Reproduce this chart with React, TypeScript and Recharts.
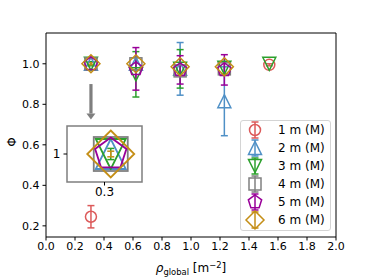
import React from "react";
import { ComposedChart, Scatter, XAxis, YAxis, ErrorBar, ReferenceArea, ReferenceLine } from "recharts";

const FONT = "DejaVu Sans, Verdana, sans-serif";

const SERIES_NAMES = ["1 m (M)", "2 m (M)", "3 m (M)", "4 m (M)", "5 m (M)", "6 m (M)"];
const SERIES_COLORS = ["#dc5a5a", "#4f90c6", "#2ca02c", "#808080", "#990099", "#c48e16"];
const SERIES_MARKERS = ["circle", "triangleUp", "triangleDown", "square", "pentagon", "diamond"];

// rho_global per series, Phi, and symmetric error
const RHO_1M = [0.31, 1.54];
const PHI_1M = [0.245, 0.995];
const ERR_1M = [0.055, 0.005];

const RHO_2M = [0.31, 0.62, 0.925, 1.23];
const PHI_2M = [1.0, 1.0, 0.975, 0.815];
const ERR_2M = [0.0, 0.03, 0.13, 0.17];

const RHO_3M = [0.31, 0.62, 0.925, 1.23, 1.54];
const PHI_3M = [1.0, 0.948, 0.975, 0.98, 1.0];
const ERR_3M = [0.01, 0.112, 0.095, 0.03, 0.0];

const RHO_4M = [0.31, 0.62, 0.925, 1.23];
const PHI_4M = [1.0, 1.0, 0.965, 0.975];
const ERR_4M = [0.0, 0.0, 0.0, 0.0];

const RHO_5M = [0.31, 0.62, 0.925, 1.23];
const PHI_5M = [1.0, 0.975, 0.97, 0.97];
const ERR_5M = [0.0, 0.105, 0.07, 0.075];

const RHO_6M = [0.31, 0.62, 0.925, 1.23];
const PHI_6M = [1.0, 1.0, 0.985, 0.985];
const ERR_6M = [0.005, 0.0, 0.0, 0.0];

const X_TICKS = [0, 0.2, 0.4, 0.6, 0.8, 1.0, 1.2, 1.4, 1.6, 1.8, 2.0];
const Y_TICKS = [0.2, 0.4, 0.6, 0.8, 1.0];
const X_DOMAIN = [0, 2];
const Y_DOMAIN = [0.145, 1.152];

// zoomed inset around the low-density point
const INSET_X_DOMAIN = [0.24, 0.36];
const INSET_Y_DOMAIN = [0.95, 1.05];
const INSET_X_TICKS = [0.3];
const INSET_Y_TICKS = [1];

const ARROW_RHO = 0.31;
const ARROW_FROM = 0.9;
const ARROW_TO = 0.725;

const toRows = (rho: number[], phi: number[], err: number[]) =>
  rho.map((r, i) => ({ rho: r, phi: phi[i], err: err[i] }));

const SERIES = [
  toRows(RHO_1M, PHI_1M, ERR_1M),
  toRows(RHO_2M, PHI_2M, ERR_2M),
  toRows(RHO_3M, PHI_3M, ERR_3M),
  toRows(RHO_4M, PHI_4M, ERR_4M),
  toRows(RHO_5M, PHI_5M, ERR_5M),
  toRows(RHO_6M, PHI_6M, ERR_6M),
];

const MAIN_SIZE: Record<string, number> = { circle: 5.5, triangleUp: 6.5, triangleDown: 6.5, square: 6, pentagon: 7, diamond: 9 };
const INSET_SIZE: Record<string, number> = { circle: 13, triangleUp: 15, triangleDown: 15, square: 17, pentagon: 16.5, diamond: 23.5 };

function Marker({ kind, cx, cy, color, size, sw }: any) {
  if (cx == null || cy == null) return null;
  const common = { fill: "none", stroke: color, strokeWidth: sw };
  if (kind === "circle") return <circle cx={cx} cy={cy} r={size} {...common} />;
  if (kind === "triangleUp")
    return <polygon points={`${cx},${cy - size} ${cx - size},${cy + size} ${cx + size},${cy + size}`} {...common} />;
  if (kind === "triangleDown")
    return <polygon points={`${cx},${cy + size} ${cx - size},${cy - size} ${cx + size},${cy - size}`} {...common} />;
  if (kind === "square") return <rect x={cx - size} y={cy - size} width={size * 2} height={size * 2} {...common} />;
  if (kind === "diamond")
    return <polygon points={`${cx},${cy - size} ${cx + size},${cy} ${cx},${cy + size} ${cx - size},${cy}`} {...common} />;
  const pts = [0, 1, 2, 3, 4]
    .map((i) => {
      const a = ((-90 + 72 * i) * Math.PI) / 180;
      return `${cx + size * Math.cos(a)},${cy + size * Math.sin(a)}`;
    })
    .join(" ");
  return <polygon points={pts} {...common} />;
}

function Arrow(props: any) {
  const { x1, y1, x2, y2 } = props;
  if (x1 == null) return null;
  const head = 6;
  return (
    <g>
      <line x1={x1} y1={y1} x2={x2} y2={y2 - head} stroke="#7f7f7f" strokeWidth={3.2} />
      <polygon points={`${x2},${y2} ${x2 - 4.5},${y2 - head} ${x2 + 4.5},${y2 - head}`} fill="#7f7f7f" />
    </g>
  );
}

function XTitle() {
  return (
    <text x={191} y={272} textAnchor="middle" fontFamily={FONT} fontSize={12} fill="#000">
      <tspan fontStyle="italic">ρ</tspan>
      <tspan fontSize={8.4} dy={2.8}>global</tspan>
      <tspan dy={-2.8}> [m</tspan>
      <tspan fontSize={8.4} dy={-4.5}>−2</tspan>
      <tspan dy={4.5}>]</tspan>
    </text>
  );
}

function YTitle() {
  return (
    <text x={12} y={142} transform="rotate(-90 12 142)" textAnchor="middle" dominantBaseline="central" fontFamily={FONT} fontSize={12} fill="#000">
      Φ
    </text>
  );
}

function Legend() {
  return (
    <div
      style={{
        position: "absolute",
        left: 240,
        top: 120,
        width: 91,
        border: "1px solid #d4d4d4",
        borderRadius: 3,
        background: "rgba(255,255,255,0.85)",
        boxSizing: "border-box",
        fontFamily: FONT,
        fontSize: 12,
        color: "#000",
        paddingBottom: 1,
      }}
    >
      {SERIES_NAMES.map((name, i) => (
        <div key={name} style={{ display: "flex", alignItems: "center", height: 18 }}>
          <svg width={28} height={18} style={{ display: "block", overflow: "visible" }}>
            <line x1={14} y1={1} x2={14} y2={17} stroke={SERIES_COLORS[i]} strokeWidth={1.5} />
            <line x1={10.5} y1={1} x2={17.5} y2={1} stroke={SERIES_COLORS[i]} strokeWidth={1.5} />
            <line x1={10.5} y1={17} x2={17.5} y2={17} stroke={SERIES_COLORS[i]} strokeWidth={1.5} />
            <Marker kind={SERIES_MARKERS[i]} cx={14} cy={9} color={SERIES_COLORS[i]} size={MAIN_SIZE[SERIES_MARKERS[i]]} sw={1.5} />
          </svg>
          <span style={{ marginLeft: 9, whiteSpace: "nowrap" }}>{name}</span>
        </div>
      ))}
    </div>
  );
}

const tickStyle = { fill: "#000", fontSize: 11, fontFamily: FONT };

export default function App() {
  return (
    <div style={{ position: "absolute", left: 0, top: 0, width: 374, height: 280, background: "#fff" }}>
      <ComposedChart width={374} height={280} margin={{ top: 33, right: 38, bottom: 0, left: 8 }}>
        <XAxis
          type="number"
          dataKey="rho"
          domain={X_DOMAIN}
          ticks={X_TICKS}
          tickFormatter={(v: number) => v.toFixed(1)}
          height={43}
          axisLine={false}
          tickSize={3.5}
          tickMargin={2}
          tickLine={{ stroke: "#000" }}
          tick={tickStyle}
          allowDataOverflow
          label={{ content: () => <XTitle /> }}
        />
        <YAxis
          type="number"
          domain={Y_DOMAIN}
          ticks={Y_TICKS}
          tickFormatter={(v: number) => v.toFixed(1)}
          width={38}
          axisLine={false}
          tickSize={3.5}
          tickMargin={3}
          tickLine={{ stroke: "#000" }}
          tick={tickStyle}
          allowDataOverflow
          label={{ content: () => <YTitle /> }}
        />
        <ReferenceArea x1={X_DOMAIN[0]} x2={X_DOMAIN[1]} y1={Y_DOMAIN[0]} y2={Y_DOMAIN[1]} fill="none" stroke="#000" strokeWidth={1} />
        <ReferenceLine segment={[{ x: ARROW_RHO, y: ARROW_FROM }, { x: ARROW_RHO, y: ARROW_TO }]} shape={Arrow} />
        {SERIES.map((rows, i) => (
          <Scatter
            key={SERIES_NAMES[i]}
            name={SERIES_NAMES[i]}
            data={rows}
            dataKey="phi"
            isAnimationActive={false}
            shape={(p: any) => (
              <Marker kind={SERIES_MARKERS[i]} cx={p.cx} cy={p.cy} color={SERIES_COLORS[i]} size={MAIN_SIZE[SERIES_MARKERS[i]]} sw={1.5} />
            )}
          >
            <ErrorBar dataKey="err" direction="y" width={3.5} stroke={SERIES_COLORS[i]} strokeWidth={1.5} isAnimationActive={false} />
          </Scatter>
        ))}
      </ComposedChart>

      <div style={{ position: "absolute", left: 40, top: 120 }}>
        <ComposedChart width={110} height={85} margin={{ top: 6, right: 8, bottom: 3, left: 0 }}>
          <XAxis
            type="number"
            dataKey="rho"
            domain={INSET_X_DOMAIN}
            ticks={INSET_X_TICKS}
            height={20}
            axisLine={false}
            tickSize={3.5}
            tickMargin={2}
            tickLine={{ stroke: "#000" }}
            tick={{ ...tickStyle, fontSize: 12 }}
            allowDataOverflow
          />
          <YAxis
            type="number"
            domain={INSET_Y_DOMAIN}
            ticks={INSET_Y_TICKS}
            width={27}
            axisLine={false}
            tickSize={3.5}
            tickMargin={3}
            tickLine={{ stroke: "#000" }}
            tick={{ ...tickStyle, fontSize: 12 }}
            allowDataOverflow
          />
          <ReferenceArea
            x1={INSET_X_DOMAIN[0]}
            x2={INSET_X_DOMAIN[1]}
            y1={INSET_Y_DOMAIN[0]}
            y2={INSET_Y_DOMAIN[1]}
            fill="#fff"
            fillOpacity={1}
            stroke="#7f7f7f"
            strokeWidth={1.5}
          />
          {SERIES.map((rows, i) =>
            i === 0 ? null : (
              <Scatter
                key={SERIES_NAMES[i]}
                data={rows.filter((r) => r.rho >= INSET_X_DOMAIN[0] && r.rho <= INSET_X_DOMAIN[1])}
                dataKey="phi"
                isAnimationActive={false}
                shape={(p: any) => (
                  <Marker kind={SERIES_MARKERS[i]} cx={p.cx} cy={p.cy} color={SERIES_COLORS[i]} size={INSET_SIZE[SERIES_MARKERS[i]]} sw={1.8} />
                )}
              >
                <ErrorBar dataKey="err" direction="y" width={3.5} stroke={SERIES_COLORS[i]} strokeWidth={1.5} isAnimationActive={false} />
              </Scatter>
            )
          )}
        </ComposedChart>
      </div>

      <Legend />
    </div>
  );
}
